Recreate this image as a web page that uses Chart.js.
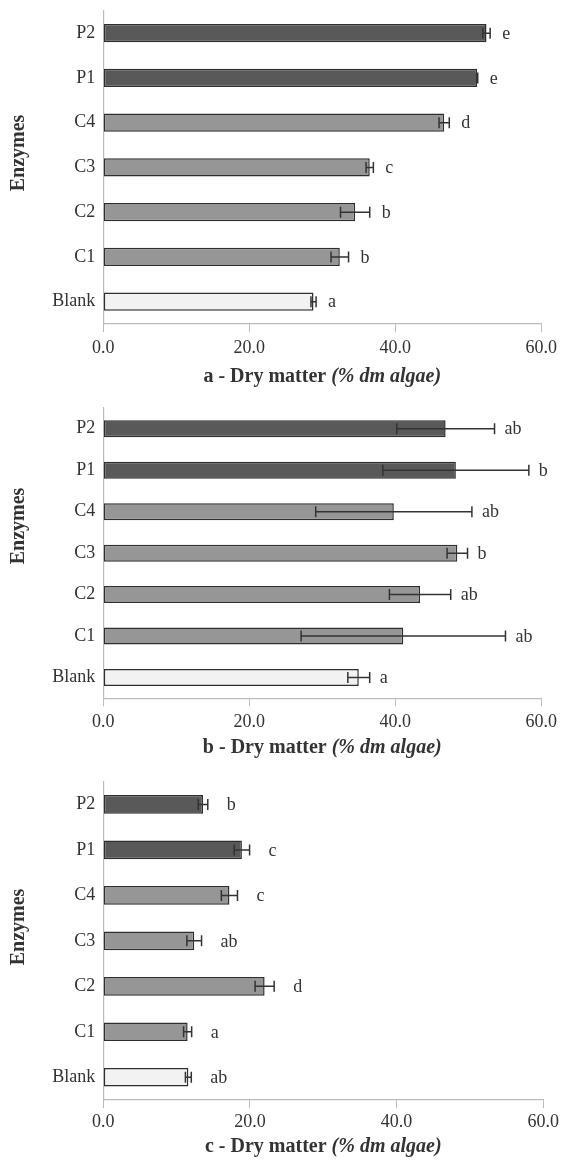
<!DOCTYPE html>
<html lang="en">
<head>
    <meta charset="UTF-8">
    <title>Dry matter by enzyme</title>
    <style>
        body {
            margin: 0;
            padding: 0;
            background: #fff;
        }
        .panel {
            position: absolute;
            left: 0;
        }
        canvas {
            display: block;
        }
    </style>
    <script src="https://cdn.jsdelivr.net/npm/chart.js"></script>
</head>
<body>

<div class="panel" style="top:0px"><canvas id="chartA" width="562" height="390"></canvas></div>
<div class="panel" style="top:390px"><canvas id="chartB" width="562" height="380"></canvas></div>
<div class="panel" style="top:770px"><canvas id="chartC" width="562" height="390"></canvas></div>

<script>
    const enzymes = ['P2', 'P1', 'C4', 'C3', 'C2', 'C1', 'Blank'];
    const xTicks = [0, 20, 40, 60];

    // a - dry matter
    const dryMatterA = [52.5, 51.2, 46.7, 36.5, 34.5, 32.4, 28.8];
    const errorA = [0.5, 0.1, 0.7, 0.5, 2.0, 1.2, 0.35];
    const lettersA = ['e', 'e', 'd', 'c', 'b', 'b', 'a'];

    // b - dry matter
    const dryMatterB = [46.9, 48.3, 39.8, 48.5, 43.4, 41.1, 35.0];
    const errorB = [6.7, 10.0, 10.7, 1.4, 4.2, 14.0, 1.5];
    const lettersB = ['ab', 'b', 'ab', 'b', 'ab', 'ab', 'a'];

    // c - dry matter
    const dryMatterC = [13.6, 18.9, 17.2, 12.4, 22.0, 11.5, 11.6];
    const errorC = [0.65, 1.05, 1.1, 1.0, 1.3, 0.55, 0.4];
    const lettersC = ['b', 'c', 'c', 'ab', 'd', 'a', 'ab'];

    const SERIF = '"Liberation Serif", "Times New Roman", serif';
    const barColors = enzymes.map(e => e[0] === 'P' ? '#595959' : (e[0] === 'C' ? '#969696' : '#f2f2f2'));

    // error bars + significance letters + axis titles
    const decorations = {
        id: 'decorations',
        afterDatasetsDraw(chart, args, opts) {
            const ctx = chart.ctx;
            const x = chart.scales.x;
            const bars = chart.getDatasetMeta(0).data;
            const values = chart.data.datasets[0].data;
            ctx.save();
            ctx.strokeStyle = '#333';
            ctx.lineWidth = 1.5;
            bars.forEach((bar, i) => {
                const lo = x.getPixelForValue(values[i] - opts.errors[i]);
                const hi = x.getPixelForValue(values[i] + opts.errors[i]);
                ctx.beginPath();
                ctx.moveTo(lo, bar.y);
                ctx.lineTo(hi, bar.y);
                ctx.moveTo(lo, bar.y - 5.5);
                ctx.lineTo(lo, bar.y + 5.5);
                ctx.moveTo(hi, bar.y - 5.5);
                ctx.lineTo(hi, bar.y + 5.5);
                ctx.stroke();

                ctx.fillStyle = '#333';
                ctx.font = '18px ' + SERIF;
                ctx.textAlign = 'left';
                ctx.textBaseline = 'middle';
                ctx.fillText(opts.letters[i], hi + opts.letterGap, bar.y + 1);
            });
            ctx.restore();
        },
        afterDraw(chart, args, opts) {
            const ctx = chart.ctx;
            const area = chart.chartArea;
            ctx.save();
            ctx.fillStyle = '#333';

            // y title, rotated
            ctx.font = 'bold 20px ' + SERIF;
            ctx.textAlign = 'center';
            ctx.textBaseline = 'middle';
            ctx.translate(19, opts.yTitleY);
            ctx.rotate(-Math.PI / 2);
            ctx.fillText('Enzymes', 0, 0);
            ctx.setTransform(1, 0, 0, 1, 0, 0);

            // x title: bold part + bold italic unit
            const plain = opts.panel + ' - Dry matter ';
            const unit = '(% dm algae)';
            ctx.font = 'bold 20px ' + SERIF;
            const w1 = ctx.measureText(plain).width;
            ctx.font = 'italic bold 20px ' + SERIF;
            const w2 = ctx.measureText(unit).width;
            const cx = (area.left + area.right) / 2;
            const ty = area.bottom + opts.xTitleGap;
            let start = cx - (w1 + w2) / 2;
            ctx.textAlign = 'left';
            ctx.font = 'bold 20px ' + SERIF;
            ctx.fillText(plain, start, ty);
            ctx.font = 'italic bold 20px ' + SERIF;
            ctx.fillText(unit, start + w1, ty);
            ctx.restore();
        }
    };

    function makeChart(id, values, errors, letters, p) {
        return new Chart(document.getElementById(id), {
            type: 'bar',
            data: {
                labels: enzymes,
                datasets: [{
                    data: values,
                    backgroundColor: barColors,
                    borderColor: '#2e2e2e',
                    borderWidth: 1.5,
                    borderSkipped: false,
                    categoryPercentage: 1,
                    barPercentage: 0.41
                }]
            },
            options: {
                indexAxis: 'y',
                responsive: false,
                animation: false,
                layout: {
                    padding: { top: p.top, right: 18.7, bottom: 0, left: 0 }
                },
                plugins: {
                    legend: { display: false },
                    tooltip: { enabled: false },
                    decorations: {
                        errors: errors,
                        letters: letters,
                        letterGap: p.letterGap,
                        panel: p.panel,
                        yTitleY: p.yTitleY,
                        xTitleGap: p.xTitleGap
                    }
                },
                scales: {
                    x: {
                        min: 0,
                        max: 60,
                        afterBuildTicks: scale => {
                            scale.ticks = xTicks.map(v => ({ value: v }));
                        },
                        afterFit: scale => { scale.height = p.xHeight; },
                        grid: {
                            drawOnChartArea: false,
                            tickLength: 8,
                            color: '#bcbcbc'
                        },
                        border: { color: '#bcbcbc', width: 1.2 },
                        ticks: {
                            padding: p.tickPad,
                            color: '#333',
                            font: { family: SERIF, size: 18 },
                            callback: v => v.toFixed(1),
                            maxRotation: 0
                        }
                    },
                    y: {
                        afterFit: scale => { scale.width = 103.3; },
                        // no tick marks drawn, but the 8px tick length still spaces the labels
                        grid: { display: false, tickLength: 8 },
                        border: { color: '#bcbcbc', width: 1.2 },
                        ticks: {
                            padding: 0,
                            color: '#333',
                            font: { family: SERIF, size: 18 }
                        }
                    }
                }
            },
            plugins: [decorations]
        });
    }

    makeChart('chartA', dryMatterA, errorA, lettersA,
        { panel: 'a', top: 10, xHeight: 66, tickPad: 5, letterGap: 12, yTitleY: 153, xTitleGap: 53 });
    makeChart('chartB', dryMatterB, errorB, lettersB,
        { panel: 'b', top: 18, xHeight: 71.7, tickPad: 5, letterGap: 10, yTitleY: 136, xTitleGap: 50 });
    makeChart('chartC', dryMatterC, errorC, lettersC,
        { panel: 'c', top: 11.7, xHeight: 60, tickPad: 3, letterGap: 19, yTitleY: 157, xTitleGap: 47 });
</script>

</body>
</html>
